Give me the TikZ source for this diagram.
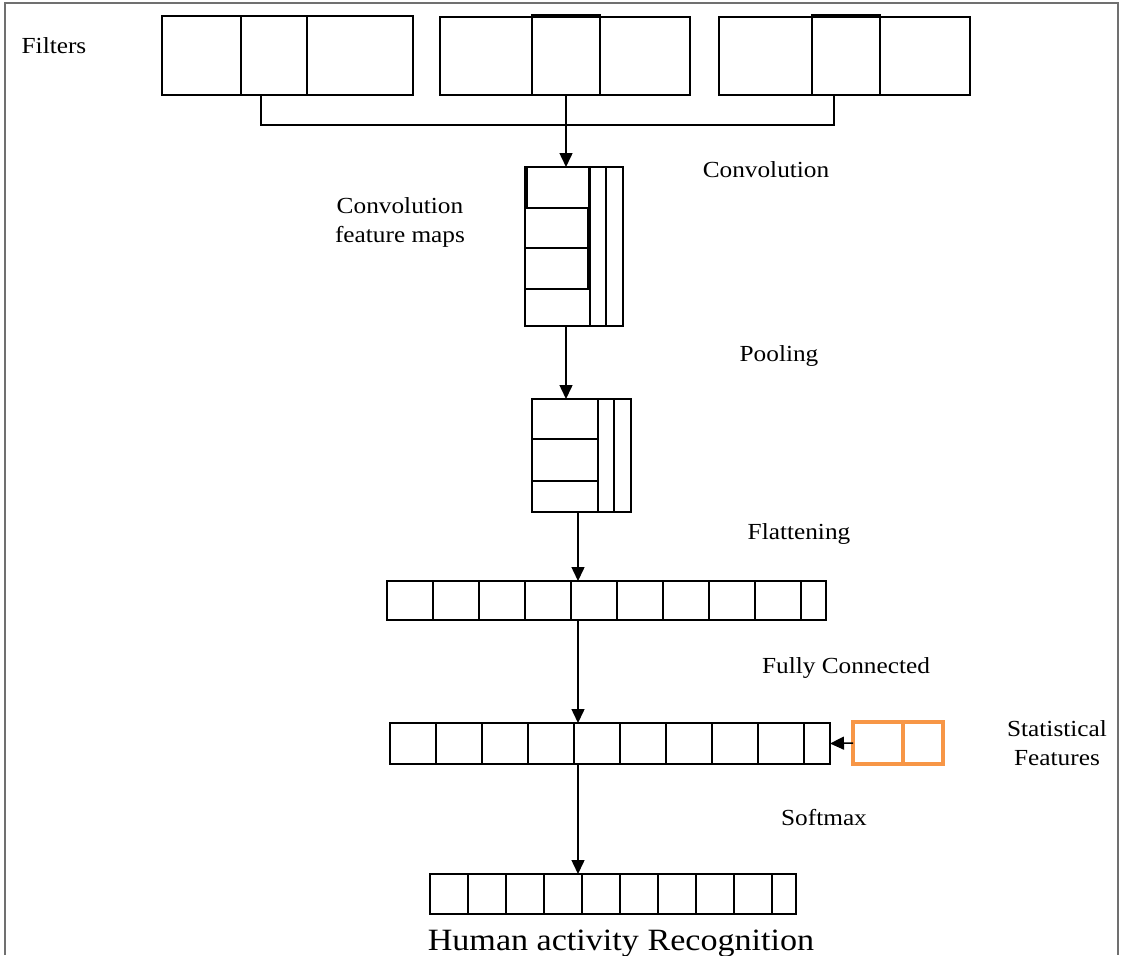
\documentclass[tikz,border=0pt]{standalone}
\usepackage{fontspec}
\usetikzlibrary{arrows.meta}
\newfontfamily\lblfont{Liberation Serif}[FakeStretch=1.1]
\definecolor{statorange}{HTML}{F79646}
\definecolor{framegray}{HTML}{707070}

\begin{document}
\begin{tikzpicture}[x=1pt,y=-1pt,line width=1.5pt,>={Triangle[width=13pt,length=14pt]},
  cell/.style={draw,rectangle,inner sep=0,outer sep=0,anchor=north west},
  stat/.style={cell,draw=statorange,line width=4pt},
  lbl/.style={font=\lblfont\fontsize{23}{29}\selectfont,align=center,inner sep=0}]
\useasboundingbox (0,0) rectangle (1123,955);
% ---------- one row of ten cells, the last one narrower ----------
% #1 = name, #2 = x origin, #3 = top, #4 = cell width, #5 = last width, #6 = height
\newcommand{\cellrow}[6]{%
  \foreach \k in {1,...,9}{%
    \pgfmathsetmacro{\cx}{#2+(\k-1)*#4}%
    \node[cell,minimum width=#4pt,minimum height=#6pt] (#1\k) at (\cx,#3) {};
  }
  \pgfmathsetmacro{\cx}{#2+9*#4}%
  \node[cell,minimum width=#5pt,minimum height=#6pt] (#1x) at (\cx,#3) {};
}
% ---------- frame ----------
\draw[framegray,line width=2pt] (5,955) -- (5,3) -- (1118,3) -- (1118,955);
% ---------- filters ----------
\node[cell,minimum width=251pt,minimum height=79pt] (fa) at (162,16) {};
\node[cell,minimum width=66pt,minimum height=79pt] (fa-in) at (241,16) {};
\node[cell,minimum width=250pt,minimum height=78pt] (fb) at (440,17) {};
\node[cell,minimum width=68pt,minimum height=80pt] (fb-in) at (532,15) {};
\node[cell,minimum width=251pt,minimum height=78pt] (fc) at (719,17) {};
\node[cell,minimum width=68pt,minimum height=80pt] (fc-in) at (812,15) {};
\coordinate (ja) at ([xshift=-13pt]fa-in.south);
\coordinate (jc) at ([xshift=-12pt]fc-in.south);
\draw (ja) -- ++(0,30) -| (jc);
% ---------- convolution feature maps ----------
\node[cell,minimum width=98pt,minimum height=159pt] (cm) at (525,167) {};
\node[cell,minimum width=16pt,minimum height=159pt] (cm-b) at (590,167) {};
\node[cell,minimum width=62pt,minimum height=41pt] (cm1) at (527,167) {};
\node[cell,minimum width=63pt,minimum height=40pt] (cm2) at (525,208) {};
\node[cell,minimum width=63pt,minimum height=41pt] (cm3) at (525,248) {};
\node[cell,minimum width=65pt,minimum height=37pt] (cm4) at (525,289) {};
% ---------- pooled maps ----------
\node[cell,minimum width=99pt,minimum height=113pt] (pm) at (532,399) {};
\node[cell,minimum width=16pt,minimum height=113pt] (pm-b) at (598,399) {};
\node[cell,minimum width=66pt,minimum height=40pt] (pm1) at (532,399) {};
\node[cell,minimum width=66pt,minimum height=42pt] (pm2) at (532,439) {};
% ---------- flat, dense and output rows ----------
\cellrow{fl}{387}{581}{46}{25}{39}
\cellrow{fc}{390}{723}{46}{26}{41}
\cellrow{out}{430}{874}{38}{24}{40}
% ---------- statistical features ----------
\node[stat,minimum width=50pt,minimum height=42pt] (st1) at (853,722) {};
\node[stat,minimum width=40pt,minimum height=42pt] (st2) at (903,722) {};
% ---------- arrows ----------
\draw[->] (fb-in.south) -- (fb-in.south |- cm.north);
\draw[->] (fb-in.south |- cm.south) -- (fb-in.south |- pm.north);
\draw[->] ([xshift=-3.5pt]pm.south) -- ([xshift=-3.5pt]pm.south |- fl5.north);
\draw[->] ([xshift=-3.5pt]pm.south |- fl5.south) -- ([xshift=-3.5pt]pm.south |- fc5.north);
\draw[->] ([xshift=-3.5pt]pm.south |- fc5.south) -- ([xshift=-3.5pt]pm.south |- out5.north);
\draw[->] (st1.west) -- (fcx.east);
% ---------- labels ----------
\node[lbl] (l-filt) at (54,46) {Filters};
\node[lbl] (l-conv) at (766,170) {Convolution};
\node[lbl] (l-maps) at (400,222) {Convolution\\feature maps};
\node[lbl] (l-pool) at (779,356) {Pooling};
\node[lbl] (l-flat) at (799,534) {Flattening};
\node[lbl] (l-fc) at (846,668) {Fully Connected};
\node[lbl] (l-stat) at (1057,743) {Statistical\\Features};
\node[lbl] (l-soft) at (824,818) {Softmax};
\node[lbl,font=\lblfont\fontsize{31}{36}\selectfont,anchor=base] (l-har) at (621,950) {Human activity Recognition};
\end{tikzpicture}
\end{document}
